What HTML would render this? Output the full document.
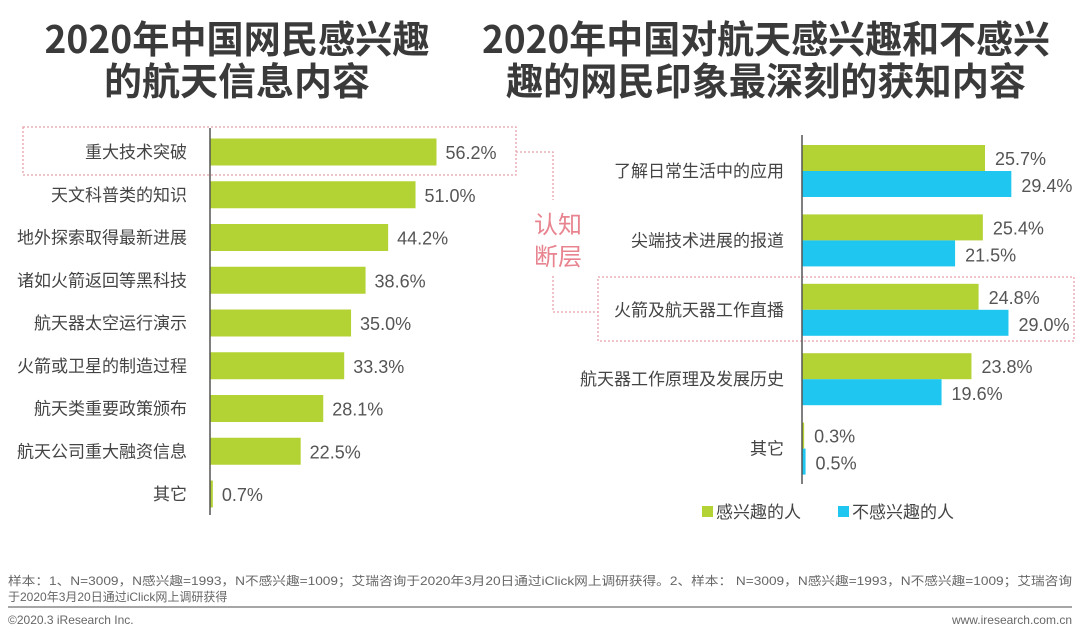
<!DOCTYPE html>
<html><head><meta charset="utf-8">
<style>
html,body{margin:0;padding:0;background:#fff;}
svg{display:block;font-family:"Liberation Sans","Noto Sans CJK SC",sans-serif;}
</style></head>
<body>
<svg id="c" width="1080" height="640" viewBox="0 0 1080 640">
  <g font-weight="bold" fill="#3a3a3a" font-size="38" text-anchor="middle" font-family="'Noto Sans CJK SC',sans-serif">
    <text x="237" y="53" textLength="385" lengthAdjust="spacingAndGlyphs">2020年中国网民感兴趣</text>
    <text x="237" y="95">的航天信息内容</text>
  </g>
  <g font-weight="bold" fill="#3a3a3a" font-size="38" text-anchor="middle" font-family="'Noto Sans CJK SC',sans-serif">
    <text x="766" y="53" textLength="568" lengthAdjust="spacingAndGlyphs">2020年中国对航天感兴趣和不感兴</text>
    <text x="766" y="95" textLength="520" lengthAdjust="spacingAndGlyphs">趣的网民印象最深刻的获知内容</text>
  </g>

  <g fill="none" stroke="#e8a0ac" stroke-width="1.3" stroke-dasharray="2,2">
    <rect x="23" y="127" width="493" height="48"/>
    <polyline points="516,152 553,152 553,200"/>
    <polyline points="553,276 553,312 598,312"/>
    <rect x="598" y="277" width="476" height="64"/>
  </g>
  <g fill="#e8848f" font-size="24" text-anchor="middle">
    <text x="558" y="233">认知</text>
    <text x="558" y="265">断层</text>
  </g>

  <g id="left"></g>
  <g id="right"></g>

  <g font-size="17" fill="#444">
    <rect x="702" y="506" width="11" height="11" fill="#b3d234"/>
    <text x="716" y="518">感兴趣的人</text>
    <rect x="838" y="506" width="11" height="11" fill="#1fc6ef"/>
    <text x="852" y="518">不感兴趣的人</text>
  </g>

  <g fill="#666" font-size="12">
    <text x="8" y="585" textLength="1064" lengthAdjust="spacingAndGlyphs">样本：1、N=3009，N感兴趣=1993，N不感兴趣=1009；艾瑞咨询于2020年3月20日通过iClick网上调研获得。2、样本： N=3009，N感兴趣=1993，N不感兴趣=1009；艾瑞咨询</text>
    <text x="8" y="601">于2020年3月20日通过iClick网上调研获得</text>
    <line x1="8" y1="607" x2="1072" y2="607" stroke="#888" stroke-width="1.5"/>
    <text x="8" y="624">©2020.3 iResearch Inc.</text>
    <text x="1072" y="624" text-anchor="end">www.iresearch.com.cn</text>
  </g>
</svg>
<script>
const leftCategories = ["重大技术突破","天文科普类的知识","地外探索取得最新进展","诸如火箭返回等黑科技","航天器太空运行演示","火箭或卫星的制造过程","航天类重要政策颁布","航天公司重大融资信息","其它"];
const leftValues = [56.2,51.0,44.2,38.6,35.0,33.3,28.1,22.5,0.7];
const rightCategories = ["了解日常生活中的应用","尖端技术进展的报道","火箭及航天器工作直播","航天器工作原理及发展历史","其它"];
const interestedValues = [25.7,25.4,24.8,23.8,0.3];
const notInterestedValues = [29.4,21.5,29.0,19.6,0.5];

const NS = "http://www.w3.org/2000/svg";
function mk(tag, attrs, parent){const e=document.createElementNS(NS,tag);for(const k in attrs)e.setAttribute(k,attrs[k]);parent.appendChild(e);return e;}

// left chart
const L = document.getElementById('left');
const lx0 = 210, lScale = 4.03, lTop = 152, lStep = 42.75, lBarH = 27;
const lxs = v => lx0 + v*lScale;
const lys = i => lTop + i*lStep;
leftCategories.forEach((c,i)=>{
  const y = lys(i);
  const r = mk('rect',{x:lx0,y:y-lBarH/2,width:lxs(leftValues[i])-lx0,height:lBarH,fill:'#b3d234'},L);
  
  
  const t = mk('text',{x:187,y:y+6,'text-anchor':'end','font-size':17,fill:'#444'},L);
  t.textContent = c;
  
  
  const v = mk('text',{x:lxs(leftValues[i])+9,y:y+7,'font-size':18,fill:'#555'},L);
  v.textContent = leftValues[i].toFixed(1)+'%';
  
  
});
const la = mk('line',{x1:lx0,y1:128,x2:lx0,y2:515,stroke:'#555','stroke-width':1.5},L);



// right chart
const R = document.getElementById('right');
const rx0 = 802, rScale = 7.12, rTop = 145, rStep = 69.4, rBarH = 26;
const rxs = v => rx0 + v*rScale;
const rys = i => rTop + i*rStep;
rightCategories.forEach((c,i)=>{
  const y = rys(i);
  const g = mk('rect',{x:rx0,y:y,width:rxs(interestedValues[i])-rx0,height:rBarH,fill:'#b3d234'},R);
  
  
  const b = mk('rect',{x:rx0,y:y+rBarH,width:rxs(notInterestedValues[i])-rx0,height:rBarH,fill:'#1fc6ef'},R);
  
  
  const t = mk('text',{x:784,y:y+rBarH+6,'text-anchor':'end','font-size':17,fill:'#444'},R);
  t.textContent = c;
  
  
  const v1 = mk('text',{x:rxs(interestedValues[i])+10,y:y+20,'font-size':18,fill:'#555'},R);
  v1.textContent = interestedValues[i].toFixed(1)+'%';
  
  
  const v2 = mk('text',{x:rxs(notInterestedValues[i])+10,y:y+rBarH+21,'font-size':18,fill:'#555'},R);
  v2.textContent = notInterestedValues[i].toFixed(1)+'%';
  
  
});
const ra = mk('line',{x1:rx0,y1:135,x2:rx0,y2:484,stroke:'#555','stroke-width':1.5},R);


</script>
</body></html>
